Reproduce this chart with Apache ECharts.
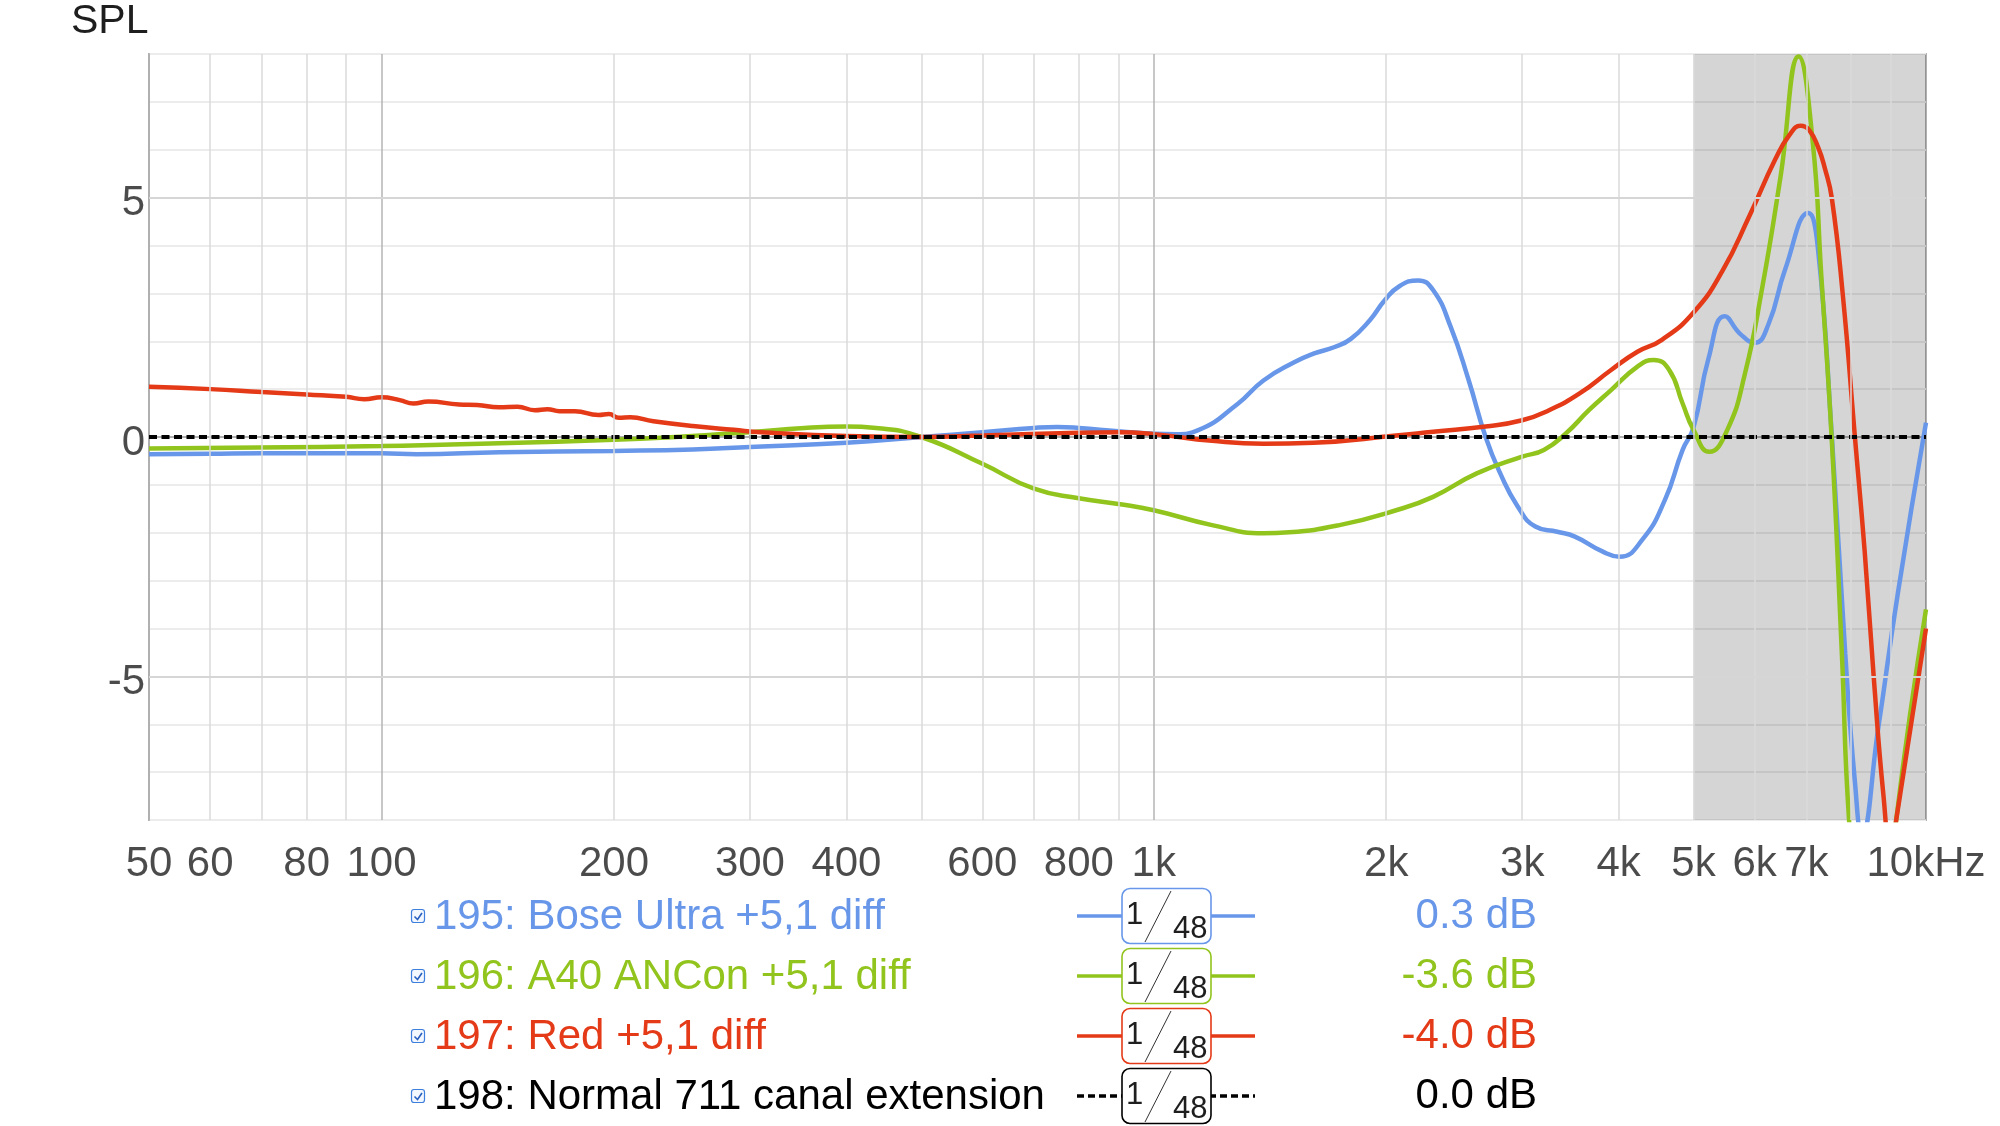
<!DOCTYPE html>
<html>
<head>
<meta charset="utf-8">
<script src="https://cdn.jsdelivr.net/npm/echarts@6/dist/echarts.min.js"></script>
<style>
html,body{margin:0;padding:0;background:#fff;}
#chart{width:2000px;height:1126px;}
</style>
</head>
<body>
<div id="chart"></div>
<script>
// ---------- DATA ----------
const tickFreqs = [50, 60, 80, 100, 200, 300, 400, 600, 800, 1000, 2000, 3000, 4000, 5000, 6000, 7000, 10000];
const tickTexts = ['50', '60', '80', '100', '200', '300', '400', '600', '800', '1k', '2k', '3k', '4k', '5k', '6k', '7k', '10kHz'];
const levelTicks = [-5, 0, 5];
const levelTexts = ['-5', '0', '5'];
const minorGridFreqs = [60, 70, 80, 90, 200, 300, 400, 500, 600, 700, 800, 900, 2000, 3000, 4000, 5000, 6000, 7000, 8000, 9000];
const majorGridFreqs = [100, 1000];
const majorGridLevels = [-5, 5];
const shadeRange = [5000, 10000];

const boseFreq = [50, 60, 70, 80, 100, 111, 142, 200, 253, 300, 400, 500, 600, 700, 750, 800, 900, 1000, 1070, 1140, 1284, 1387, 1520, 1610, 1715, 1800, 1907, 1990, 2080, 2200, 2300, 2424, 2557, 2690, 2810, 2960, 3120, 3330, 3510, 3810, 4010, 4290, 4590, 4840, 5000, 5230, 5490, 5750, 6000, 6250, 6570, 7040, 7240, 7550, 7860, 8090, 8260, 8670, 9200, 10000];
const boseSPL  = [-0.36, -0.35, -0.34, -0.34, -0.34, -0.36, -0.32, -0.29, -0.26, -0.21, -0.12, 0.0, 0.10, 0.19, 0.21, 0.19, 0.12, 0.07, 0.06, 0.14, 0.69, 1.18, 1.56, 1.74, 1.88, 2.05, 2.45, 2.85, 3.15, 3.27, 3.07, 2.30, 1.19, 0.0, -0.76, -1.45, -1.87, -1.98, -2.08, -2.39, -2.50, -2.15, -1.32, -0.27, 0.2, 1.65, 2.52, 2.15, 1.97, 2.35, 3.5, 4.68, 3.99, 0.05, -4.52, -7.2, -8.3, -6.1, -3.24, 0.3];

const a40Freq = [50, 69, 100, 142, 200, 240, 286, 300, 353, 400, 437, 500, 600, 700, 800, 900, 1000, 1190, 1387, 1497, 1740, 2060, 2300, 2620, 3000, 3200, 3420, 3660, 3910, 4230, 4440, 4650, 4840, 5000, 5240, 5530, 5830, 6140, 6480, 6840, 7130, 7320, 7550, 7780, 7950, 8350, 8800, 9150, 10000];
const a40SPL  = [-0.24, -0.22, -0.19, -0.13, -0.06, 0.0, 0.08, 0.10, 0.19, 0.22, 0.19, 0.0, -0.56, -1.08, -1.28, -1.40, -1.53, -1.84, -2.01, -1.99, -1.84, -1.53, -1.25, -0.76, -0.41, -0.27, 0.08, 0.56, 0.98, 1.47, 1.61, 1.40, 0.70, 0.15, -0.31, 0.15, 1.33, 3.14, 5.43, 7.95, 6.2, 3.35, -0.05, -4.5, -8.0, -12.0, -11.0, -8.0, -3.6];

const redFreq = [50, 60, 70, 80, 90, 95, 100, 105.6, 110, 115, 126, 133, 142, 150, 158, 164, 170, 178, 191, 197, 203, 210, 225, 253, 286, 310, 400, 500, 600, 800, 900, 1000, 1190, 1387, 1610, 2060, 2300, 2690, 3000, 3250, 3560, 3910, 4230, 4550, 5000, 5450, 5900, 6380, 6650, 6880, 7050, 7250, 7400, 7550, 7800, 8090, 8330, 8560, 8810, 9000, 9150, 10000];
const redSPL  = [1.05, 1.0, 0.94, 0.89, 0.84, 0.79, 0.83, 0.77, 0.70, 0.74, 0.68, 0.67, 0.62, 0.63, 0.56, 0.58, 0.54, 0.54, 0.46, 0.48, 0.40, 0.41, 0.33, 0.23, 0.15, 0.10, 0.02, 0.0, 0.03, 0.09, 0.10, 0.06, -0.08, -0.14, -0.12, 0.03, 0.11, 0.22, 0.35, 0.56, 0.91, 1.40, 1.78, 2.03, 2.6, 3.47, 4.6, 5.8, 6.3, 6.5, 6.42, 6.05, 5.6, 5.0, 3.0, 0.0, -2.4, -5.05, -7.5, -8.6, -8.0, -4.0];

const refFreq = [50, 10000];
const refSPL  = [0, 0];

const seriesNames  = ['195: Bose Ultra +5,1 diff', '196: A40 ANCon +5,1 diff', '197: Red +5,1 diff', '198: Normal 711 canal extension'];
const seriesLevels = ['0.3 dB', '-3.6 dB', '-4.0 dB', '0.0 dB'];
const smoothingNum = '1';
const smoothingDen = '48';

// ---------- STYLE ----------
const COLORS = ['#6897ea', '#92c41e', '#e43a18', '#000000'];
const FONT = '"Liberation Sans", Arial, Helvetica, sans-serif';
const TXT = '#1e1e1e';

const zip = (xs, ys) => xs.map((x, i) => [x, ys[i]]);

const chart = echarts.init(document.getElementById('chart'), null, {renderer: 'canvas'});

function curve(name, data, color, extra) {
  return Object.assign({
    name: name,
    type: 'line',
    data: data,
    showSymbol: false,
    symbol: 'none',
    smooth: 0.5,
    clip: true,
    z: 3,
    lineStyle: {color: color, width: 4.5},
    itemStyle: {color: color},
    emphasis: {disabled: true},
    silent: true
  }, extra || {});
}

const gridLineData = []
  .concat(minorGridFreqs.map(f => ({xAxis: f, lineStyle: {color: '#dadada', width: 1.5, type: 'solid'}})))
  .concat(majorGridFreqs.map(f => ({xAxis: f, lineStyle: {color: '#b5b5b5', width: 1.5, type: 'solid'}})))
  .concat(majorGridLevels.map(v => ({yAxis: v, lineStyle: {color: '#d6d6d6', width: 2, type: 'solid'}})));

// ---------- LEGEND (graphic) ----------
const legendGraphics = [];
seriesNames.forEach((name, i) => {
  const y = 916 + 60 * i;
  const c = COLORS[i];
  legendGraphics.push({type: 'rect', shape: {x: 411.5, y: y - 6.5, width: 13, height: 13, r: 2.5},
    style: {fill: '#f3f7ff', stroke: '#3f7fdc', lineWidth: 1.2}, silent: true});
  legendGraphics.push({type: 'polyline', shape: {points: [[414.5, y + 0.5], [417.5, y + 3.5], [422, y - 3]]},
    style: {stroke: '#2a60c0', lineWidth: 1.6, fill: null}, silent: true});
  legendGraphics.push({type: 'text', x: 434, y: y + 1,
    style: {text: name, fill: c, font: '42px ' + FONT, verticalAlign: 'middle', align: 'left'}, silent: true});
  legendGraphics.push({type: 'line', shape: {x1: 1077, y1: y, x2: 1255, y2: y},
    style: {stroke: c, lineWidth: 3.5, lineDash: i === 3 ? [7, 4] : null}, silent: true});
  legendGraphics.push({type: 'rect', shape: {x: 1122, y: y - 27.5, width: 89, height: 55, r: 8},
    style: {fill: '#ffffff', stroke: c, lineWidth: 1.6}, silent: true});
  legendGraphics.push({type: 'text', x: 1126, y: y - 16,
    style: {text: smoothingNum, fill: TXT, font: '31px ' + FONT, verticalAlign: 'top', align: 'left'}, silent: true});
  legendGraphics.push({type: 'line', shape: {x1: 1171, y1: y - 25, x2: 1145, y2: y + 26},
    style: {stroke: '#333333', lineWidth: 1}, silent: true});
  legendGraphics.push({type: 'text', x: 1173, y: y + 29,
    style: {text: smoothingDen, fill: TXT, font: '31px ' + FONT, verticalAlign: 'bottom', align: 'left'}, silent: true});
  legendGraphics.push({type: 'text', x: 1537, y: y,
    style: {text: seriesLevels[i], fill: c, font: '42px ' + FONT, verticalAlign: 'middle', align: 'right'}, silent: true});
});
legendGraphics.push({type: 'text', x: 71, y: 22,
  style: {text: 'SPL', fill: TXT, font: '41px ' + FONT, verticalAlign: 'middle', align: 'left'}, silent: true});

const option = {
  backgroundColor: '#ffffff',
  animation: false,
  textStyle: {fontFamily: FONT},
  grid: {left: 149, right: 74, top: 54, bottom: 306, containLabel: false,
    show: true, borderColor: '#b0b0b0', borderWidth: 2, backgroundColor: 'transparent'},
  xAxis: {
    type: 'log', logBase: 10, min: 50, max: 10000,
    axisLine: {show: true, lineStyle: {color: '#b0b0b0', width: 2}},
    axisTick: {show: false},
    axisLabel: {show: false},
    splitLine: {show: false},
    minorSplitLine: {show: false}
  },
  yAxis: {
    type: 'value', min: -8, max: 8, interval: 1,
    axisLine: {show: true, lineStyle: {color: '#b0b0b0', width: 2}},
    axisTick: {show: false},
    axisLabel: {show: false},
    splitLine: {show: true, lineStyle: {color: '#ececec', width: 2}}
  },
  graphic: {elements: legendGraphics},
  series: [
    {
      name: 'grid', type: 'line', data: [[50, 0]], symbol: 'none', silent: true, z: 1,
      lineStyle: {opacity: 0},
      markLine: {silent: true, symbol: ['none', 'none'], label: {show: false}, animation: false,
        emphasis: {disabled: true}, data: gridLineData}
    },
    curve(seriesNames[0], zip(boseFreq, boseSPL), COLORS[0]),
    curve(seriesNames[1], zip(a40Freq, a40SPL), COLORS[1]),
    curve(seriesNames[2], zip(redFreq, redSPL), COLORS[2]),
    curve(seriesNames[3], zip(refFreq, refSPL), COLORS[3], {smooth: false, z: 4,
      lineStyle: {color: '#000000', width: 4, type: [8, 4.5]}}),
    {
      name: 'shade', type: 'line', data: [[50, 0]], symbol: 'none', silent: true, z: 6,
      lineStyle: {opacity: 0},
      markArea: {silent: true, animation: false,
        itemStyle: {color: 'rgba(0,0,0,0.165)', borderWidth: 0},
        data: [[{xAxis: shadeRange[0]}, {xAxis: shadeRange[1]}]]}
    },
    {
      name: 'ticks', type: 'scatter', data: tickFreqs.map((f, i) => ({value: [f, -8], name: tickTexts[i]})),
      symbolSize: 1, clip: false, silent: true, z: 7,
      itemStyle: {color: 'rgba(0,0,0,0)'},
      label: {show: true, position: 'bottom', distance: 23, formatter: p => p.name,
        fontSize: 42, color: TXT, fontFamily: FONT, lineHeight: 42}
    },
    {
      name: 'levels', type: 'scatter', data: levelTicks.map((v, i) => ({value: [50, v], name: levelTexts[i]})),
      symbolSize: 1, clip: false, silent: true, z: 7,
      itemStyle: {color: 'rgba(0,0,0,0)'},
      label: {show: true, position: 'left', distance: 3.5, offset: [0, 6], formatter: p => p.name,
        fontSize: 42, color: TXT, fontFamily: FONT, lineHeight: 42}
    }
  ]
};
chart.setOption(option);
</script>
</body>
</html>
